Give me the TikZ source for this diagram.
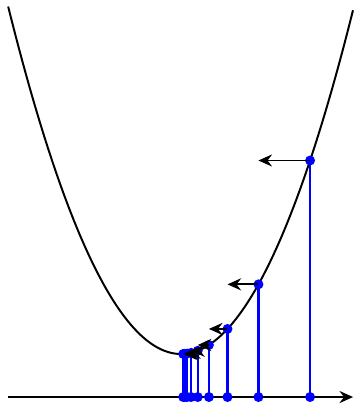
\documentclass[tikz,border=0pt]{standalone}
\usepackage{tikz}
\usetikzlibrary{arrows.meta}
\tikzset{
  curve/.style={line width=1.3pt,black},
  drop/.style={line width=1.4pt,blue},
  stepdot/.style={circle,fill=blue,inner sep=0pt,minimum size=6.6pt},
  descent/.style={line width=1.3pt,black,-{Stealth[length=9pt,width=8pt,inset=3pt]}}
}

\begin{document}
\begin{tikzpicture}[x=2cm,y=2cm]
\useasboundingbox (-2.105,-0.081) rectangle (2.0,4.616);
\coordinate (axl) at (-2.01,0);
\coordinate (axr) at (2.0,0);
\draw[descent] (axl) -- (axr);
\draw[curve,domain=-2.01:2,samples=100] plot (\x,{\x*\x+0.5});
\coordinate (b0) at (1.5,0);
\coordinate (b1) at (0.9,0);
\coordinate (b2) at (0.54,0);
\coordinate (b3) at (0.324,0);
\coordinate (b4) at (0.1944,0);
\coordinate (b5) at (0.11664,0);
\coordinate (b6) at (0.069984,0);
\coordinate (b7) at (0.04199,0);
\coordinate (b8) at (0.025194,0);
\node[stepdot] (p0) at (1.5,2.75) {};
\node[stepdot] (p1) at (0.9,1.31) {};
\node[stepdot] (p2) at (0.54,0.7916) {};
\node[stepdot] (p3) at (0.324,0.604976) {};
\node[stepdot] (p4) at (0.1944,0.537791) {};
\node[stepdot] (p5) at (0.11664,0.513605) {};
\node[stepdot] (p6) at (0.069984,0.504898) {};
\node[stepdot] (p7) at (0.04199,0.501763) {};
\node[stepdot] (p8) at (0.025194,0.500635) {};
\node[stepdot] (q0) at (b0) {};
\node[stepdot] (q1) at (b1) {};
\node[stepdot] (q2) at (b2) {};
\node[stepdot] (q3) at (b3) {};
\node[stepdot] (q4) at (b4) {};
\node[stepdot] (q5) at (b5) {};
\node[stepdot] (q6) at (b6) {};
\node[stepdot] (q7) at (b7) {};
\node[stepdot] (q8) at (b8) {};
\draw[drop] (q0.center) -- (p0.center);
\draw[drop] (q1.center) -- (p1.center);
\draw[drop] (q2.center) -- (p2.center);
\draw[drop] (q3.center) -- (p3.center);
\draw[drop] (q4.center) -- (p4.center);
\draw[drop] (q5.center) -- (p5.center);
\draw[drop] (q6.center) -- (p6.center);
\draw[drop] (q7.center) -- (p7.center);
\draw[drop] (q8.center) -- (p8.center);
\coordinate (t0) at (0.9,2.75);
\coordinate (t1) at (0.54,1.31);
\coordinate (t2) at (0.324,0.7916);
\coordinate (t3) at (0.1944,0.604976);
\coordinate (t4) at (0.11664,0.537791);
\coordinate (t5) at (0.069984,0.513605);
\coordinate (t6) at (0.04199,0.504898);
\coordinate (t7) at (0.025194,0.501763);
\draw[descent] (p0.center) -- (t0);
\draw[descent] (p1.center) -- (t1);
\draw[descent] (p2.center) -- (t2);
\draw[descent] (p3.center) -- (t3);
\draw[descent] (p4.center) -- (t4);
\draw[descent] (p5.center) -- (t5);
\draw[descent] (p6.center) -- (t6);
\draw[descent] (p7.center) -- (t7);
\end{tikzpicture}
\end{document}
